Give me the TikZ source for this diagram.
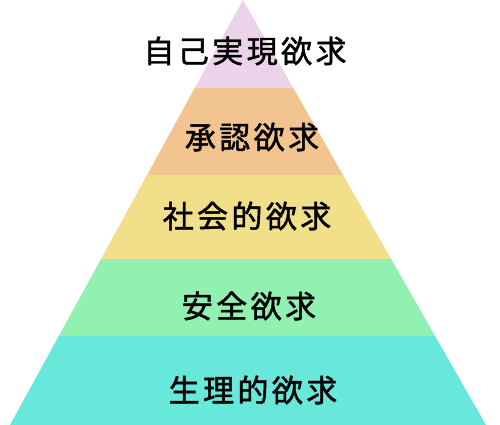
\documentclass[tikz,border=0pt]{standalone}
\usepackage{fontspec}
\newfontfamily\jpfont{Noto Sans CJK JP}[FakeBold=1.5]
\usetikzlibrary{calc}
\definecolor{lpink}{RGB}{236,211,236}
\definecolor{lorange}{RGB}{241,196,144}
\definecolor{lyellow}{RGB}{241,223,138}
\definecolor{lgreen}{RGB}{145,241,176}
\definecolor{lcyan}{RGB}{103,232,218}
\tikzset{
  layer/.style={draw=none},
  lbl/.style={font=\jpfont\fontsize{31}{34}\selectfont\addfontfeature{LetterSpace=11}, text=black, inner sep=0pt, anchor=center}
}
\begin{document}
\begin{tikzpicture}[x=1pt,y=-1pt]
\useasboundingbox (0,0) rectangle (500,425);
\coordinate (apex) at (243,0);
\coordinate (bl) at (10,425);
\coordinate (br) at (486,425);
% layers from bottom to top
\fill[lcyan]   ($(apex)!336/425!(bl)$) -- (bl) -- (br) -- ($(apex)!336/425!(br)$) -- cycle;
\fill[lgreen]  ($(apex)!259/425!(bl)$) -- ($(apex)!336/425!(bl)$) -- ($(apex)!336/425!(br)$) -- ($(apex)!259/425!(br)$) -- cycle;
\fill[lyellow] ($(apex)!175/425!(bl)$) -- ($(apex)!259/425!(bl)$) -- ($(apex)!259/425!(br)$) -- ($(apex)!175/425!(br)$) -- cycle;
\fill[lorange] ($(apex)!88/425!(bl)$) -- ($(apex)!175/425!(bl)$) -- ($(apex)!175/425!(br)$) -- ($(apex)!88/425!(br)$) -- cycle;
\fill[lpink]   (apex) -- ($(apex)!88/425!(bl)$) -- ($(apex)!88/425!(br)$) -- cycle;
% labels
\node[lbl] (t1) at (245,51)  {自己実現欲求};
\node[lbl] (t2) at (252,137) {承認欲求};
\node[lbl] (t3) at (247,216) {社会的欲求};
\node[lbl] (t4) at (249,306) {安全欲求};
\node[lbl] (t5) at (253,390) {生理的欲求};
\end{tikzpicture}
\end{document}
